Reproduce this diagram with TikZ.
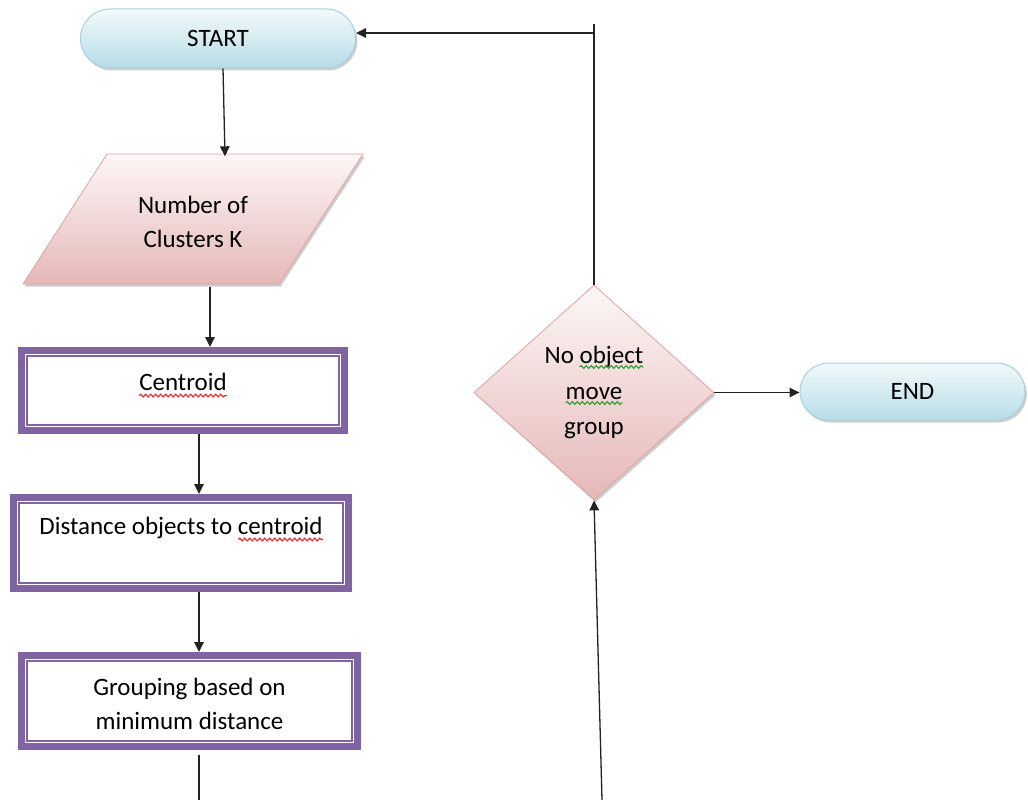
\documentclass[tikz,border=0pt]{standalone}
\usepackage{fontspec}
\setmainfont{Carlito}
\usetikzlibrary{shapes.geometric,shapes.misc,arrows.meta,calc,shadows,decorations.pathmorphing}

\definecolor{termtop}{HTML}{F3F9FB}
\definecolor{termbot}{HTML}{B7DDE8}
\definecolor{termline}{HTML}{A6D2DE}
\definecolor{pinktop}{HTML}{FDF7F7}
\definecolor{pinkbot}{HTML}{E5B8B7}
\definecolor{pinkline}{HTML}{DDA4A3}
\definecolor{boxpurple}{HTML}{8064A2}
\definecolor{linegray}{HTML}{222222}
\definecolor{spellred}{HTML}{E8282C}
\definecolor{spellgreen}{HTML}{2E9E2E}

\newcommand\labelfont{\fontsize{25}{34}\selectfont}
\newlength\wCen \newlength\wNoObj \newlength\wNo \newlength\wMove

\begin{document}
% word widths for the proofing underlines
\settowidth{\wCen}{\labelfont centroid}\global\wCen=\wCen
\settowidth{\wNoObj}{\labelfont No object}\global\wNoObj=\wNoObj
\settowidth{\wNo}{\labelfont No }\global\wNo=\wNo
\settowidth{\wMove}{\labelfont move}\global\wMove=\wMove
\begin{tikzpicture}[x=1pt,y=-1pt,
  every node/.style={font=\labelfont, text=black},
  softshadow/.style={drop shadow={shadow xshift=1.8pt, shadow yshift=-2.5pt, opacity=.28, fill=black!70}},
  term/.style={rounded rectangle, draw=termline, line width=1pt,
    top color=termtop, bottom color=termbot, softshadow, inner sep=0pt},
  stepbox/.style={rectangle, draw=boxpurple, line width=6.7pt, fill=white, inner sep=0pt},
  label/.style={inner sep=0pt, align=center},
  decide/.style={diamond, draw=pinkline, line width=.8pt, top color=pinktop,
    bottom color=pinkbot, softshadow, inner sep=0pt, align=center,
    font=\fontsize{25}{35.5}\selectfont},
  arr/.style={draw=linegray, line width=1.3pt, -{Triangle[length=10pt,width=9.5pt]}},
  plain/.style={draw=linegray, line width=1.3pt},
  squig/.style={decorate, decoration={snake, amplitude=1.4pt, segment length=5pt}, line width=1.1pt}]

\useasboundingbox (0,0) rectangle (1028,800);

% terminals
\node[term, minimum width=275pt, minimum height=59pt] (start) at (218,38.5) {START};
\node[term, minimum width=225pt, minimum height=57pt] (end) at (912.5,391.5) {END};

% input parallelogram
\path[draw=pinkline, line width=.8pt, top color=pinktop, bottom color=pinkbot, softshadow]
  (107,154) -- (363,154) -- (279,284) -- (23,284) -- cycle;
\node[label, minimum width=256pt, minimum height=130pt] (num) at (193,221.5)
  {Number of\\Clusters K};

% process boxes
\node[stepbox, minimum width=323.3pt, minimum height=80.3pt] (cen) at (183,390.5) {};
\node[stepbox, minimum width=335.3pt, minimum height=91.3pt] (dist) at (181,543) {};
\node[stepbox, minimum width=336.3pt, minimum height=91.3pt] (grp) at (189.5,701) {};
\foreach \b in {cen,dist,grp}
  \draw[boxpurple, line width=1.4pt]
    ([shift={(9pt,-9pt)}]\b.north west) rectangle ([shift={(-9pt,9pt)}]\b.south east);

\node[label] (cenT) at (183,382) {Centroid};
\node[label] (distT) at (181,528) {Distance objects to centroid};
\node[label] (grpT) at (189.5,704) {Grouping based on\\minimum distance};

% decision
\node[decide, minimum width=240pt, minimum height=215pt] (dec) at (594,392.5)
  {No object\\move\\group};

% proofing underlines
\draw[spellred, squig] ([yshift=-5pt]cenT.base west) -- ([yshift=-5pt]cenT.base east);
\draw[spellred, squig] ([xshift=-\wCen, yshift=-5pt]distT.base east) -- ([yshift=-5pt]distT.base east);
\pgfmathsetmacro\objL{594-0.5*\wNoObj+\wNo}
\pgfmathsetmacro\objR{594+0.5*\wNoObj}
\pgfmathsetmacro\movL{594-0.5*\wMove}
\pgfmathsetmacro\movR{594+0.5*\wMove}
\draw[spellgreen, squig] (\objL,367) -- (\objR,367);
\draw[spellgreen, squig] (\movL,403) -- (\movR,403);

% free ends of the loop back
\coordinate (outL) at (199,800);
\coordinate (outR) at (602,800);
\coordinate (topT) at (594,24);
\coordinate (turn) at (594,33);

% connectors
\draw[arr] ($(start.south)+(5,0)$) -- ($(num.north)+(32,0)$);
\draw[arr] ($(num.south)+(17,0)$) -- ($(cen.north)+(27,0)$);
\draw[arr] ($(cen.south)+(16,0)$) -- ($(dist.north)+(18,0)$);
\draw[arr] ($(dist.south)+(18,0)$) -- ($(grp.north)+(9.5,0)$);
\draw[plain] ($(grp.south)+(9.5,5)$) -- (outL);
\draw[arr] (outR) -- (dec.south);
\draw[plain] (dec.north) -- (topT);
\draw[arr] (turn) -- (start.east |- turn);
\draw[arr] (dec.east) -- (dec.east -| end.west);

\end{tikzpicture}
\end{document}
